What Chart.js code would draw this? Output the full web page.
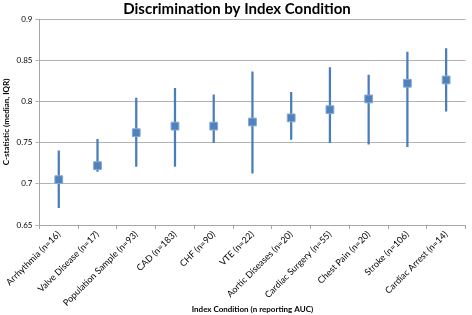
<!DOCTYPE html>
<html>
<head>
<meta charset="utf-8">
<script src="https://cdn.jsdelivr.net/npm/chart.js@4"></script>
<style>
  html, body { margin: 0; padding: 0; background: #fff; }
  #wrap { width: 472px; height: 315px; position: relative; }
</style>
</head>
<body>
<div id="wrap"><canvas id="c"></canvas></div>
<script>
// categories and values
const conditions = [
  "Arrhythmia (n=16)", "Valve Disease (n=17)", "Population Sample (n=93)",
  "CAD (n=183)", "CHF (n=90)", "VTE (n=22)", "Aortic Diseases (n=20)",
  "Cardiac Surgery (n=55)", "Chest Pain (n=20)", "Stroke (n=106)", "Cardiac Arrest (n=14)"
];
const medians = [0.705, 0.722, 0.762, 0.770, 0.770, 0.775, 0.780, 0.790, 0.803, 0.822, 0.826];
const iqrLow  = [0.671, 0.715, 0.721, 0.721, 0.750, 0.713, 0.754, 0.750, 0.748, 0.745, 0.788];
const iqrHigh = [0.740, 0.754, 0.804, 0.816, 0.808, 0.836, 0.811, 0.841, 0.832, 0.860, 0.864];
const yTicks = [0.65, 0.7, 0.75, 0.8, 0.85, 0.9];

const font = "Lato, 'Open Sans', sans-serif";

const ctx = document.getElementById("c");
new Chart(ctx, {
  data: {
    labels: conditions,
    datasets: [
      {
        type: "line",
        label: "Median",
        data: medians,
        showLine: false,
        pointStyle: "rect",
        pointRadius: 5.5,
        pointHoverRadius: 5.5,
        backgroundColor: "#4f81bd",
        borderColor: "#86a8d3",
        borderWidth: 1,
        order: 1
      },
      {
        type: "bar",
        label: "IQR",
        data: iqrLow.map((lo, i) => [lo, iqrHigh[i]]),
        backgroundColor: "#4a7ebb",
        borderWidth: 0,
        barThickness: 1.6,
        order: 2
      }
    ]
  },
  options: {
    responsive: true,
    maintainAspectRatio: false,
    animation: false,
    layout: { padding: { left: 2, right: 0, top: 0, bottom: 1 } },
    plugins: {
      legend: { display: false },
      tooltip: { enabled: false },
      title: {
        display: true,
        text: "Discrimination by Index Condition",
        color: "#000",
        font: { family: font, size: 15, weight: "bold" },
        padding: { top: 0, bottom: 1 }
      }
    },
    scales: {
      x: {
        type: "category",
        offset: true,
        afterFit: scale => { scale.height = 89; },
        grid: {
          offset: true,
          drawOnChartArea: false,
          drawTicks: true,
          tickLength: 4,
          color: "#a6a6a6"
        },
        border: { color: "#a6a6a6" },
        ticks: {
          color: "#000",
          font: { family: font, size: 9 },
          minRotation: 45,
          maxRotation: 45,
          autoSkip: false,
          padding: 0
        },
        title: {
          display: true,
          text: "Index Condition (n reporting AUC)",
          color: "#000",
          font: { family: font, size: 8, weight: "bold" },
          padding: { top: 2, bottom: 0 }
        }
      },
      y: {
        min: 0.65,
        max: 0.9,
        afterBuildTicks: axis => { axis.ticks = yTicks.map(v => ({ value: v })); },
        grid: {
          color: "#b3b3b3",
          tickLength: 4,
          lineWidth: 1
        },
        border: { color: "#a6a6a6" },
        ticks: {
          color: "#000",
          font: { family: font, size: 8 },
          padding: 3,
          callback: v => String(+v.toFixed(2))
        },
        title: {
          display: true,
          text: "C-statistic (median, IQR)",
          color: "#000",
          font: { family: font, size: 8, weight: "bold" },
          padding: { top: 0, bottom: 2 }
        }
      }
    }
  }
});
</script>
</body>
</html>
